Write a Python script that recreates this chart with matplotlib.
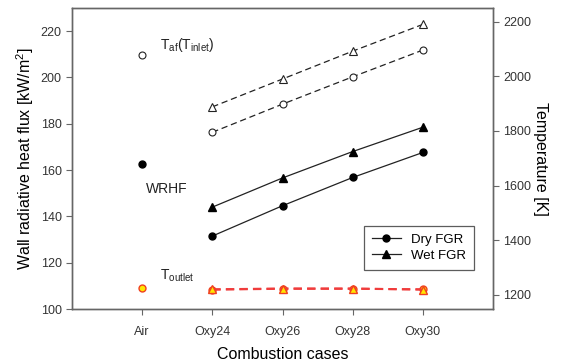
import matplotlib
matplotlib.use("Agg")
import matplotlib.pyplot as plt
from matplotlib.lines import Line2D

plt.rcParams['font.family'] = ['Liberation Sans', 'DejaVu Sans']
plt.rcParams['mathtext.default'] = 'regular'

cases = ["Air", "Oxy24", "Oxy26", "Oxy28", "Oxy30"]
oxy_cases = cases[1:]

# Wall radiative heat flux [kW/m2] (left axis)
wrhf_air = 162.5
wrhf_dry = [131.5, 144.6, 156.8, 167.6]
wrhf_wet = [144.0, 156.6, 168.0, 178.5]

# Temperatures [K] (right axis)
taf_air = 2077
taf_dry = [1795, 1898, 1998, 2096]
taf_wet = [1888, 1990, 2092, 2190]
tout_air = 1224
tout_dry = [1219, 1222, 1222, 1220]
tout_wet = [1220, 1223, 1223, 1219]

xpos = list(range(len(cases)))
xo = xpos[1:]

fig = plt.figure(figsize=(5.63, 3.63), dpi=100)
ax = fig.add_axes([72/563, 1-309/363, (493-72)/563, (309-8)/363])
ax2 = ax.twinx()

ink = '#222222'
spine_c = '#666666'

# left axis: WRHF
ax.plot([0], [wrhf_air], 'o', color='black', ms=5)
ax.plot(xo, wrhf_dry, '-', color=ink, lw=0.9, marker='o', ms=5, mfc='black', mec='black')
ax.plot(xo, wrhf_wet, '-', color=ink, lw=0.9, marker='^', ms=6, mfc='black', mec='black')

# right axis: temperatures
ax2.plot([0], [taf_air], 'o', mfc='white', mec=ink, ms=5, mew=0.8)
ax2.plot(xo, taf_dry, '--', color=ink, lw=0.9, dashes=(5, 3), marker='o', ms=5, mfc='white', mec=ink, mew=0.8)
ax2.plot(xo, taf_wet, '--', color=ink, lw=0.9, dashes=(5, 3), marker='^', ms=6, mfc='white', mec=ink, mew=0.8)

ax2.plot([0], [tout_air], 'o', mfc='#ffe600', mec='#f04020', ms=5, mew=1.0)
ax2.plot(xo, tout_dry, '--', color='#f03c3c', lw=1.5, dashes=(4, 2.5), marker='o', ms=5, mfc='#ffe600', mec='#f04020', mew=1.0)
ax2.plot(xo, tout_wet, '--', color='#f03c3c', lw=1.5, dashes=(4, 2.5), marker='^', ms=5.5, mfc='#ffe600', mec='#f04020', mew=1.0)

ax.set_xlim(-1, 5)
ax.set_ylim(100, 230)
ax.set_yticks([100, 120, 140, 160, 180, 200, 220])
ax.set_xticks(xpos)
ax.set_xticklabels(cases)
ax2.set_ylim(1148, 2250)
ax2.set_yticks([1200, 1400, 1600, 1800, 2000, 2200])

for a in (ax, ax2):
    for s in a.spines.values():
        s.set_color(spine_c)
        s.set_linewidth(1.0)
    a.tick_params(direction='out', length=4, width=0.8, color=spine_c, labelsize=9, labelcolor='#333333')
ax.tick_params(axis='x', pad=8)

ax.set_ylabel("Wall radiative heat flux [kW/m$^2$]", fontsize=11.5, color='black', labelpad=3)
ax2.set_ylabel("Temperature [K]", fontsize=11.5, rotation=270, labelpad=12, color='black')
ax.set_xlabel("Combustion cases", fontsize=11.5, labelpad=7, color='black')

ax.text(0.25, 210, r"T$_{af}$(T$_{inlet}$)", fontsize=10, color='#222222', va='bottom', ha='left')
ax.text(0.05, 152, "WRHF", fontsize=10, color='#222222', va='center', ha='left')
ax.text(0.25, 111, r"T$_{outlet}$", fontsize=10, color='#222222', va='bottom', ha='left')

handles = [Line2D([0], [0], color=ink, lw=0.9, marker='o', ms=5, mfc='black', mec='black'),
           Line2D([0], [0], color=ink, lw=0.9, marker='^', ms=6, mfc='black', mec='black')]
leg = ax.legend(handles, ["Dry FGR", "Wet FGR"], loc='upper left',
                bbox_to_anchor=((357-72)/421, 1-(219-8)/301), fontsize=9.5,
                frameon=True, fancybox=False, edgecolor='#333333', borderpad=0.6,
                handlelength=2.2, labelspacing=0.3)
leg.get_frame().set_linewidth(0.9)

fig.savefig("out.png", dpi=100)
